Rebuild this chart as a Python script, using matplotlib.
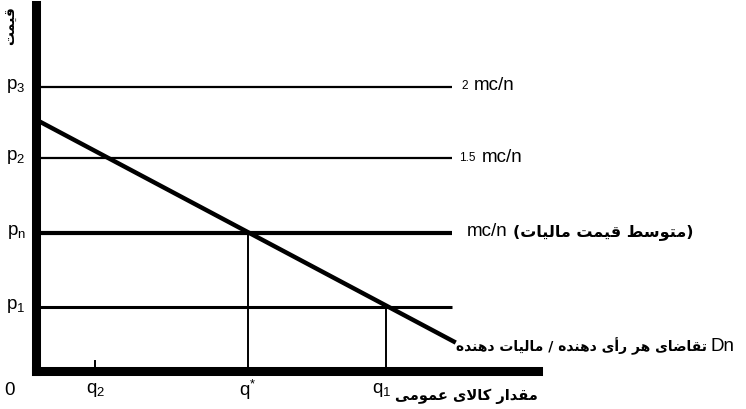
import matplotlib
matplotlib.use('Agg')
import matplotlib.pyplot as plt
from matplotlib.transforms import offset_copy

plt.rcParams['font.family'] = ['Liberation Sans', 'DejaVu Sans']

# price levels (in units of mc/n) and quantities
price_labels = [r'$\mathregular{p_3}$', r'$\mathregular{p_2}$', r'$\mathregular{p_n}$', r'$\mathregular{p_1}$']
price_values = [2.0, 1.5, 0.97, 0.45]
price_widths = [1.6, 1.6, 3.0, 2.2]
line_end = 1.96

qty_labels = ['0', r'$\mathregular{q_2}$', r'$\mathregular{q^{*}}$', r'$\mathregular{q_1}$']
qty_values = [0.0, 0.28, 1.0, 1.65]

# demand of each voter / taxpayer
demand_q = [0.0, 1.98]
demand_p = [1.77, 0.20]

# minimal Arabic-script shaping: (isolated, final, initial, medial)
FORMS = {
    'ا': ('\uFE8D', '\uFE8E', None, None),
    'أ': ('\uFE83', '\uFE84', None, None),
    'د': ('\uFEA9', '\uFEAA', None, None),
    'ر': ('\uFEAD', '\uFEAE', None, None),
    'و': ('\uFEED', '\uFEEE', None, None),
    'ت': ('\uFE95', '\uFE96', '\uFE97', '\uFE98'),
    'س': ('\uFEB1', '\uFEB2', '\uFEB3', '\uFEB4'),
    'ض': ('\uFEBD', '\uFEBE', '\uFEBF', '\uFEC0'),
    'ط': ('\uFEC1', '\uFEC2', '\uFEC3', '\uFEC4'),
    'ع': ('\uFEC9', '\uFECA', '\uFECB', '\uFECC'),
    'ق': ('\uFED5', '\uFED6', '\uFED7', '\uFED8'),
    'ل': ('\uFEDD', '\uFEDE', '\uFEDF', '\uFEE0'),
    'م': ('\uFEE1', '\uFEE2', '\uFEE3', '\uFEE4'),
    'ن': ('\uFEE5', '\uFEE6', '\uFEE7', '\uFEE8'),
    'ه': ('\uFEE9', '\uFEEA', '\uFEEB', '\uFEEC'),
    'ی': ('\uFBFC', '\uFBFD', '\uFBFE', '\uFBFF'),
    'ک': ('\uFB8E', '\uFB8F', '\uFB90', '\uFB91'),
}
LAM_ALEF = ('\uFEFB', '\uFEFC')


def joins_next(c):
    return c in FORMS and FORMS[c][2] is not None


def fa(text):
    chars = list(text)
    out = []
    i = 0
    while i < len(chars):
        c = chars[i]
        prev = chars[i - 1] if i > 0 else None
        nxt = chars[i + 1] if i + 1 < len(chars) else None
        if c not in FORMS:
            out.append(c)
            i += 1
            continue
        p = prev is not None and joins_next(prev)
        if c == 'ل' and nxt == 'ا':
            out.append(LAM_ALEF[1] if p else LAM_ALEF[0])
            i += 2
            continue
        n = nxt is not None and nxt in FORMS and joins_next(c)
        iso, fin, ini, med = FORMS[c]
        if p and n:
            out.append(med)
        elif p:
            out.append(fin)
        elif n:
            out.append(ini)
        else:
            out.append(iso)
        i += 1
    return ''.join(reversed(out))


FA = dict(fontweight='bold', family=['DejaVu Sans'])

fig = plt.figure(figsize=(7.46, 4.09), dpi=100)
ax = fig.add_axes([36 / 746, 38 / 409, 502 / 746, 366 / 409])
ax.set_xlim(0, 2.368)
ax.set_ylim(0, 2.577)
for s in ['top', 'right']:
    ax.spines[s].set_visible(False)
for s in ['left', 'bottom']:
    ax.spines[s].set_linewidth(6.5)
    ax.spines[s].set_capstyle('projecting')
ax.set_xticks([])
ax.set_yticks([])
renderer = fig.canvas.get_renderer()


def text_after(prev, s, **kw):
    # put a text just right of an already drawn one
    bb = prev.get_window_extent(renderer)
    x, _ = ax.transData.inverted().transform((bb.x1, bb.y0))
    _, y = prev.get_position()
    tr = offset_copy(ax.transData, fig=fig, x=kw.pop('gap', 4), y=0, units='dots')
    return ax.text(x, y, s, transform=tr, ha='left', va='center', clip_on=False, **kw)


# horizontal price lines
for lab, val, lw in zip(price_labels, price_values, price_widths):
    ax.plot([0, line_end], [val, val], color='black', lw=lw, solid_capstyle='butt')
    ax.text(-0.094, val + 0.01, lab, fontsize=13.5, ha='center', va='center', clip_on=False)

# demand line
ax.plot(demand_q, demand_p, color='black', lw=3.2, solid_capstyle='butt')

# verticals from the intersections down to the axis
ax.plot([qty_values[2], qty_values[2]], [0, price_values[2]], color='black', lw=1.4)
ax.plot([qty_values[3], qty_values[3]], [0, price_values[3]], color='black', lw=1.4)
ax.plot([qty_values[1], qty_values[1]], [0, 0.07], color='black', lw=1.4)

# quantity labels
qx = [-0.127] + qty_values[1:]
for lab, x in zip(qty_labels, qx):
    dx = -0.02 if lab.endswith('q_1}$') else 0
    ax.text(x + dx, -0.135, lab, fontsize=13.5, ha='center', va='center', clip_on=False)

# labels at the right end of the price lines
t = ax.text(line_end + 0.045, price_values[0] + 0.01, '2', fontsize=8.5, ha='left', va='center')
text_after(t, 'mc/n', fontsize=13.5, gap=6)
t = ax.text(line_end + 0.035, price_values[1], '1.5', fontsize=8.5, ha='left', va='center')
text_after(t, 'mc/n', fontsize=13.5, gap=6)
t = ax.text(line_end + 0.073, price_values[2] + 0.01, 'mc/n', fontsize=13.5, ha='left', va='center')
text_after(t, '(' + fa('متوسط قیمت مالیات') + ')', fontsize=11.5, gap=5, **FA)

# demand label
t = ax.text(demand_q[1] + 0.0, demand_p[1] - 0.025, fa('تقاضای هر رأی دهنده / مالیات دهنده'),
            fontsize=10, ha='left', va='center', **FA)
text_after(t, 'Dn', fontsize=13.5, gap=4)

# axis titles
ax.text(2.368, -0.18, fa('مقدار کالای عمومی'), fontsize=10.5,
        ha='right', va='center', clip_on=False, **FA)
ax.text(-0.118, 2.43, fa('قیمت'), fontsize=10, rotation=90,
        ha='center', va='center', clip_on=False, **FA)

fig.savefig('out.png', dpi=100)
